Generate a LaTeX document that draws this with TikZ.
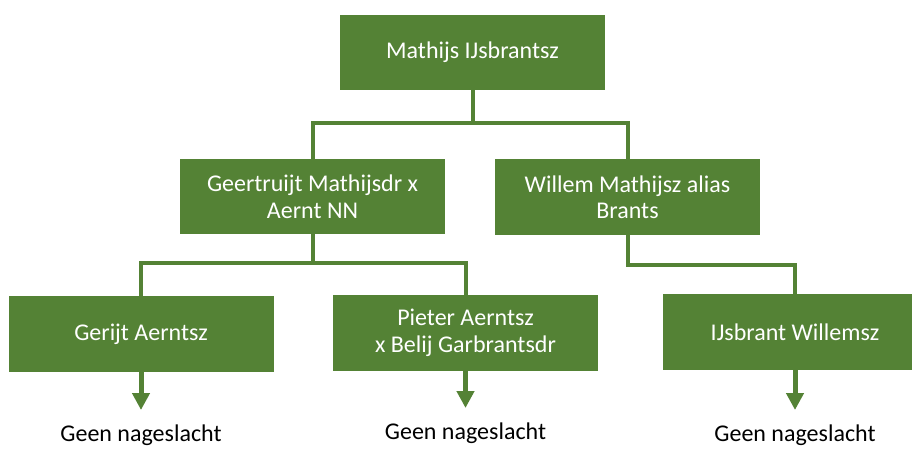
\documentclass[tikz,border=0pt]{standalone}
\usepackage{fontspec}
\setmainfont{Carlito}
\usepackage{tikz}
\usetikzlibrary{arrows.meta}
\definecolor{boxgreen}{HTML}{548235}

\begin{document}
\begin{tikzpicture}[x=1pt,y=1pt]
                \useasboundingbox (0,0) rectangle (912,-448);
                \clip (0,0) rectangle (912,-448);
                \begin{scope}[every node/.style={fill=boxgreen, text=white, minimum width=265pt, minimum height=75.5pt, inner sep=2pt, align=center, font=\fontsize{24}{26.5}\selectfont}]
                        \node (M1) at (472.5,-52.5) {Mathijs IJsbrantsz};
                        \node (G1) at (312.5,-196.5) {Geertruijt Mathijsdr x\\Aernt NN};
                        \node (W1) at (627.5,-197) {Willem Mathijsz alias\\Brants};
                        \node (G2) at (141,-334) {Gerijt Aerntsz};
                        \node (P1) at (465.5,-333) {Pieter Aerntsz\\x Belij Garbrantsdr};
                        \node (I1) at (795,-332) {IJsbrant Willemsz};
                \end{scope}
                \begin{scope}[every node/.style={anchor=base, inner sep=0pt, font=\fontsize{24}{26.5}\selectfont}]
                        \node (N1) at (141,-441) {Geen nageslacht};
                        \node (N2) at (465.5,-439) {Geen nageslacht};
                        \node (N3) at (795,-441) {Geen nageslacht};
                \end{scope}
                \coordinate (T1) at (141,-410);
                \coordinate (T2) at (465.5,-408);
                \coordinate (T3) at (795,-410);
                \begin{scope}[every path/.style={draw=boxgreen, line width=4pt}]
                        \path (M1.south) -- ++(0,-33) coordinate (B1);
                        \path (G1.north) |- (B1) -| (W1.north);
                        \path (G1.south) -- ++(0,-29) coordinate (B2);
                        \path (G2.north) |- (B2) -| (P1.north);
                        \path (W1.south) -- ++(0,-30) -| (I1.north);
                \end{scope}
                \begin{scope}[every path/.style={draw=boxgreen, line width=5pt, -{Triangle[width=17pt,length=17pt]}}]
                        \path (G2.south) -- (T1);
                        \path (P1.south) -- (T2);
                        \path (I1.south) -- (T3);
                \end{scope}
        \end{tikzpicture}
\end{document}
